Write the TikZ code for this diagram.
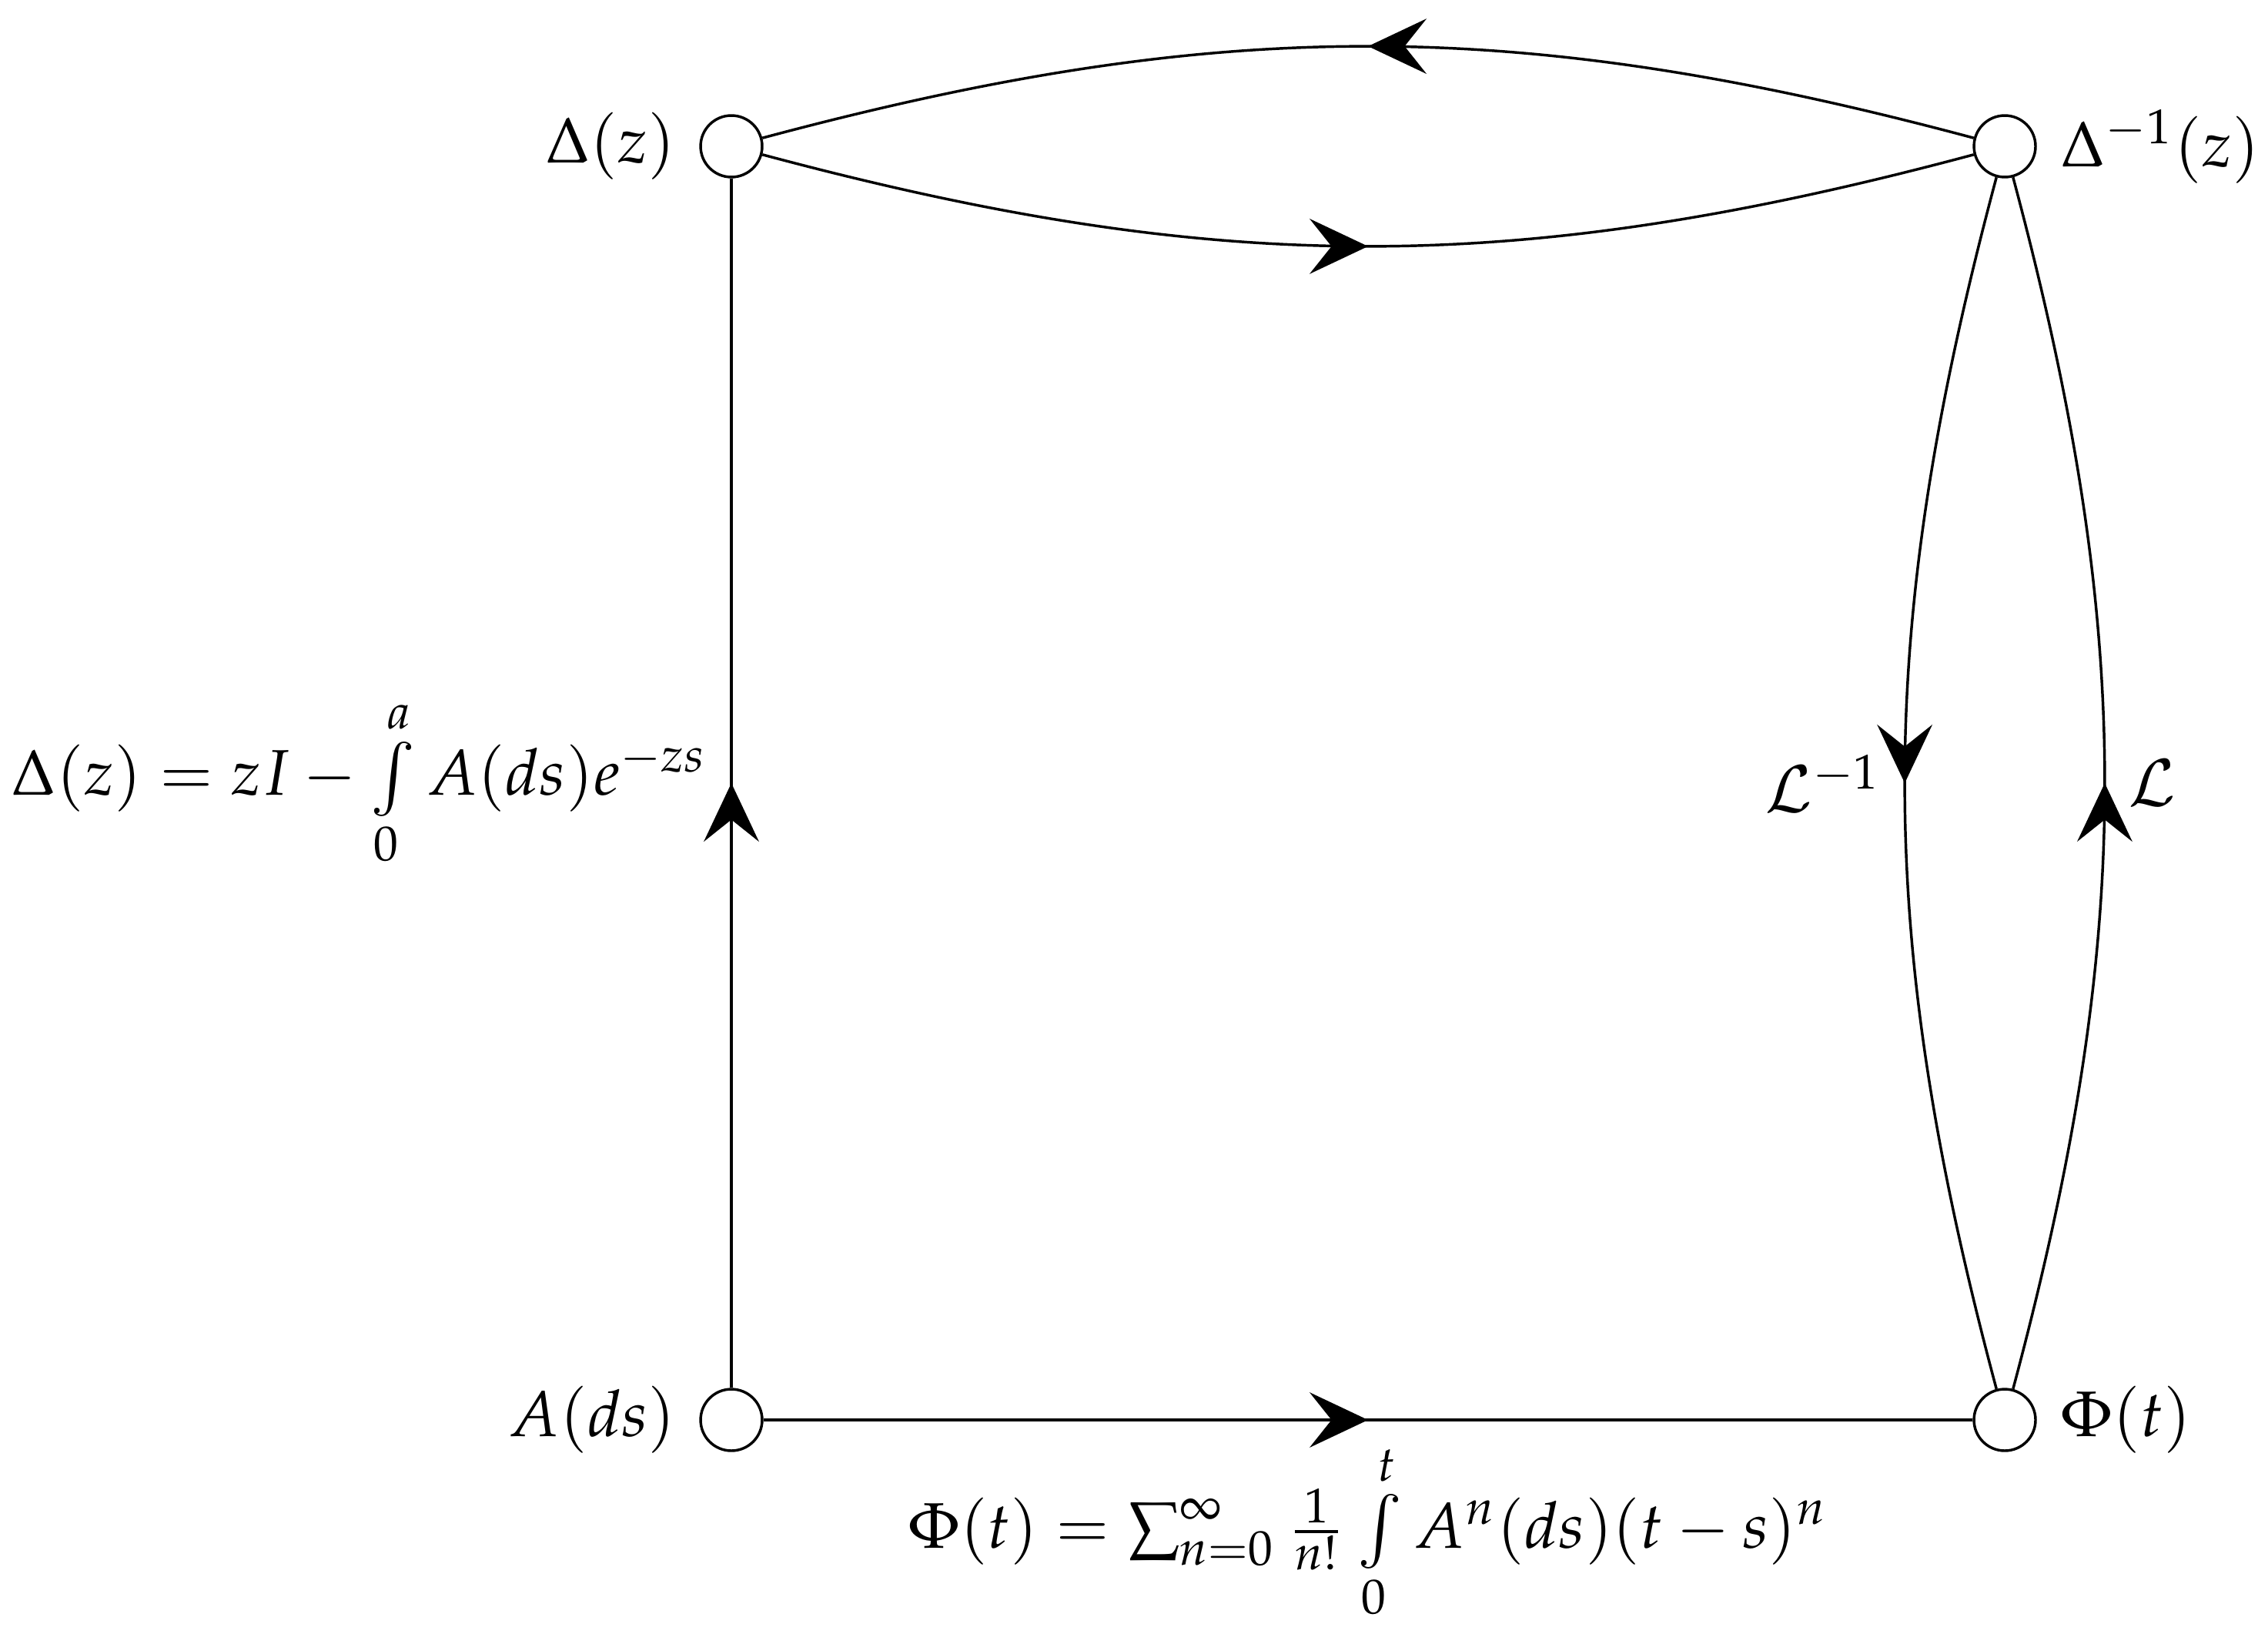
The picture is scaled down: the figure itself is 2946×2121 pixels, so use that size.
\documentclass[tikz,border=0pt]{standalone}
\usepackage{mathpazo}
\usetikzlibrary{arrows.meta,decorations.markings}
\begin{document}
\begin{tikzpicture}[x=0.0040717cm,y=0.0040717cm,line width=0.4pt,
  font=\fontsize{9.7pt}{11.6pt}\selectfont,
  vtx/.style={circle,draw,minimum size=0.3257cm,inner sep=0pt},
  midarrow/.style={postaction={decorate},decoration={markings,
    mark=at position 0.5 with {\arrow{Stealth[length=8.8pt,width=8.3pt,inset=3.3pt]}}}}]
\useasboundingbox (0,0) rectangle (2946,2121);
\node[vtx,label={left:$\Delta(z)$}] (D) at (950,1931) {};
\node[vtx,label={right:$\Delta^{-1}(z)$}] (Di) at (2604,1931) {};
\node[vtx,label={left:$A(ds)$}] (A) at (950,277) {};
\node[vtx,label={right:$\Phi(t)$}] (P) at (2604,277) {};
\draw[midarrow] (Di) to[bend right=15] (D);
\draw[midarrow] (D) to[bend right=15] (Di);
\draw[midarrow] (Di) to[bend right=15] node[pos=0.5,left] {$\mathcal{L}^{-1}$} (P);
\draw[midarrow] (P) to[bend right=15] node[pos=0.5,right] {$\mathcal{L}$} (Di);
\draw[midarrow] (A) -- node[pos=0.5,left] {$\Delta(z)=zI-\int\limits_0^a A(ds)e^{-zs}$} (D);
\draw[midarrow] (A) -- node[pos=0.5,below] {$\Phi(t)=\sum_{n=0}^{\infty}\frac{1}{n!}\int\limits_0^t A^n(ds)(t-s)^n$} (P);
\end{tikzpicture}
\end{document}
